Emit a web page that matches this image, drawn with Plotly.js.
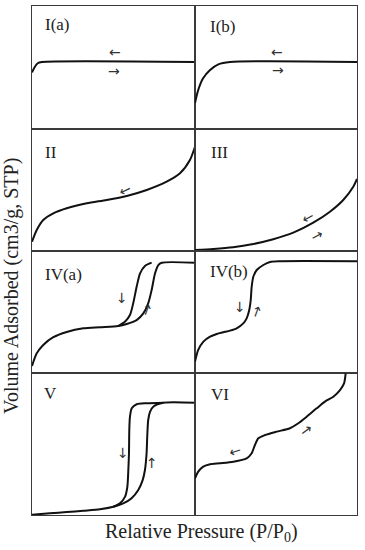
<!DOCTYPE html>
<html>
<head>
<meta charset="utf-8">
<script src="https://cdn.plot.ly/plotly-3.0.1.min.js"></script>
<style>html,body{margin:0;padding:0;background:#fff;}#chart{width:365px;height:550px;}</style>
</head>
<body>
<div id="chart"></div>
<script>
// ---- Data (relative pressure 0..1, relative volume 0..1 within each panel) ----
const panelLabels = ['I(a)', 'I(b)', 'II', 'III', 'IV(a)', 'IV(b)', 'V', 'VI'];

const iaX = [0, 0.015, 0.035, 0.06, 1.0];
const iaY = [0.46, 0.50, 0.535, 0.545, 0.545];

const ibX = [0, 0.02, 0.05, 0.093, 0.144, 0.216, 1.0];
const ibY = [0.211, 0.317, 0.412, 0.48, 0.526, 0.545, 0.545];

const iiX = [0, 0.029, 0.069, 0.131, 0.213, 0.336, 0.458, 0.581, 0.704, 0.826, 0.908, 0.969, 1.0];
const iiY = [0.076, 0.172, 0.254, 0.309, 0.35, 0.391, 0.418, 0.451, 0.5, 0.568, 0.637, 0.746, 0.855];

const iiiX = [0, 0.113, 0.236, 0.36, 0.483, 0.607, 0.73, 0.833, 0.915, 0.977, 1.0];
const iiiY = [0.008, 0.016, 0.03, 0.057, 0.096, 0.15, 0.232, 0.322, 0.418, 0.527, 0.59];

const ivaAdsX = [0, 0.029, 0.069, 0.131, 0.213, 0.315, 0.417, 0.529, 0.581, 0.642, 0.683, 0.713, 0.734, 0.755, 0.775, 0.796, 1.0];
const ivaAdsY = [0.057, 0.161, 0.23, 0.293, 0.336, 0.366, 0.375, 0.385, 0.402, 0.434, 0.489, 0.571, 0.68, 0.817, 0.885, 0.904, 0.904];
const ivaDesX = [0.529, 0.57, 0.601, 0.621, 0.642, 0.663, 0.693, 0.734];
const ivaDesY = [0.385, 0.42, 0.475, 0.571, 0.707, 0.817, 0.877, 0.904];

const ivbX = [0, 0.02, 0.052, 0.093, 0.134, 0.175, 0.216, 0.257, 0.298, 0.319, 0.335, 0.344, 0.35, 0.36, 0.381, 0.422, 0.463, 0.525, 1.0];
const ivbY = [0.093, 0.189, 0.257, 0.298, 0.32, 0.334, 0.347, 0.366, 0.407, 0.448, 0.516, 0.598, 0.707, 0.789, 0.844, 0.885, 0.91, 0.916, 0.916];

const vAdsX = [0, 0.11, 0.213, 0.315, 0.417, 0.499, 0.56, 0.611, 0.652, 0.679, 0.693, 0.703, 0.707, 0.713, 0.724, 0.744, 0.806, 1.0];
const vAdsY = [0.002, 0.012, 0.021, 0.03, 0.04, 0.058, 0.082, 0.118, 0.176, 0.246, 0.317, 0.435, 0.551, 0.669, 0.727, 0.763, 0.791, 0.791];
const vDesX = [0.499, 0.54, 0.571, 0.585, 0.591, 0.595, 0.597, 0.601, 0.612, 0.642, 0.704, 0.806];
const vDesY = [0.058, 0.082, 0.129, 0.199, 0.317, 0.435, 0.599, 0.692, 0.751, 0.78, 0.787, 0.791];

const viX = [0, 0.02, 0.051, 0.093, 0.154, 0.237, 0.319, 0.35, 0.37, 0.391, 0.432, 0.504, 0.586, 0.638, 0.689, 0.751, 0.802, 0.854, 0.895, 0.92, 0.93];
const viY = [0.258, 0.305, 0.34, 0.357, 0.364, 0.375, 0.399, 0.435, 0.493, 0.54, 0.563, 0.587, 0.611, 0.646, 0.692, 0.751, 0.798, 0.833, 0.88, 0.927, 0.998];

const xTitle = 'Relative Pressure (P/P<sub>0</sub>)';
const yTitle = 'Volume Adsorbed (cm3/g, STP)';

// ---- Build figure ----
const series = [
  [0, iaX, iaY], [1, ibX, ibY], [2, iiX, iiY], [3, iiiX, iiiY],
  [4, ivaAdsX, ivaAdsY], [4, ivaDesX, ivaDesY], [5, ivbX, ivbY],
  [6, vAdsX, vAdsY], [6, vDesX, vDesY], [7, viX, viY]
];

const traces = series.map(([p, xs, ys]) => ({
  x: xs, y: ys, type: 'scatter', mode: 'lines',
  xaxis: 'x' + (p + 1), yaxis: 'y' + (p + 1),
  line: {color: '#111', width: 2, shape: 'spline', smoothing: 0.7},
  hoverinfo: 'skip', showlegend: false
}));

const colDomains = [[0, 0.5015], [0.5015, 1]];
const rowDomains = [[0.7583, 1], [0.5187, 0.7583], [0.279, 0.5187], [0, 0.279]];

const layout = {
  width: 365, height: 550,
  margin: {l: 32, r: 8, t: 6, b: 35},
  paper_bgcolor: '#fff', plot_bgcolor: '#fff',
  showlegend: false,
  annotations: []
};

for (let p = 0; p < 8; p++) {
  const col = p % 2, row = Math.floor(p / 2);
  const ax = {
    range: [0, 1], showline: true, mirror: true,
    linecolor: '#3a3a3a', linewidth: 1.3, showgrid: false, zeroline: false,
    showticklabels: false, ticks: '', fixedrange: true
  };
  layout['xaxis' + (p + 1)] = Object.assign({}, ax, {domain: colDomains[col], anchor: 'y' + (p + 1)});
  layout['yaxis' + (p + 1)] = Object.assign({}, ax, {domain: rowDomains[row], anchor: 'x' + (p + 1)});
}

const serif = 'Liberation Serif, Times New Roman, DejaVu Serif, serif';
const arrowFont = 'DejaVu Sans, DejaVu Serif, sans-serif';
const labelPos = [[0.067, 0.846], [0.08, 0.837], [0.067, 0.807], [0.086, 0.811],
                  [0.067, 0.811], [0.08, 0.832], [0.061, 0.859], [0.086, 0.845]];
panelLabels.forEach((t, p) => {
  layout.annotations.push({
    text: t, xref: 'x' + (p + 1), yref: 'y' + (p + 1),
    x: labelPos[p][0], y: labelPos[p][1], xanchor: 'left', yanchor: 'middle',
    showarrow: false, font: {family: serif, size: 17, color: '#222'}
  });
});

// direction arrows: [panel, glyph, x, y, angle]
const arrows = [
  [0, '\u2190', 0.509, 0.63, 0], [0, '\u2192', 0.503, 0.475, 0],
  [1, '\u2190', 0.506, 0.63, 0], [1, '\u2192', 0.51, 0.483, 0],
  [2, '\u2190', 0.571, 0.5, -25],
  [3, '\u2190', 0.699, 0.276, -28], [3, '\u2192', 0.755, 0.131, -28],
  [4, '\u2193', 0.55, 0.612, 0], [4, '\u2191', 0.704, 0.516, 20],
  [5, '\u2193', 0.278, 0.543, 0], [5, '\u2191', 0.385, 0.502, 20],
  [6, '\u2193', 0.556, 0.439, 0], [6, '\u2191', 0.734, 0.364, 0],
  [7, '\u2190', 0.247, 0.453, -18], [7, '\u2192', 0.685, 0.599, -37]
];
arrows.forEach(([p, g, x, y, a]) => {
  layout.annotations.push({
    text: g, xref: 'x' + (p + 1), yref: 'y' + (p + 1), x: x, y: y,
    xanchor: 'center', yanchor: 'middle', textangle: a, showarrow: false,
    font: {family: arrowFont, size: 14, color: '#333'}
  });
});

layout.annotations.push({
  text: xTitle, xref: 'paper', yref: 'paper', x: 0.52, y: -0.035,
  xanchor: 'center', yanchor: 'middle', showarrow: false,
  font: {family: serif, size: 20, color: '#222'}
});
layout.annotations.push({
  text: yTitle, xref: 'paper', yref: 'paper', x: -0.0615, y: 0.45,
  xanchor: 'center', yanchor: 'middle', textangle: -90, showarrow: false,
  font: {family: serif, size: 20, color: '#222'}
});

Plotly.newPlot('chart', traces, layout, {staticPlot: true, displayModeBar: false});
</script>
</body>
</html>
